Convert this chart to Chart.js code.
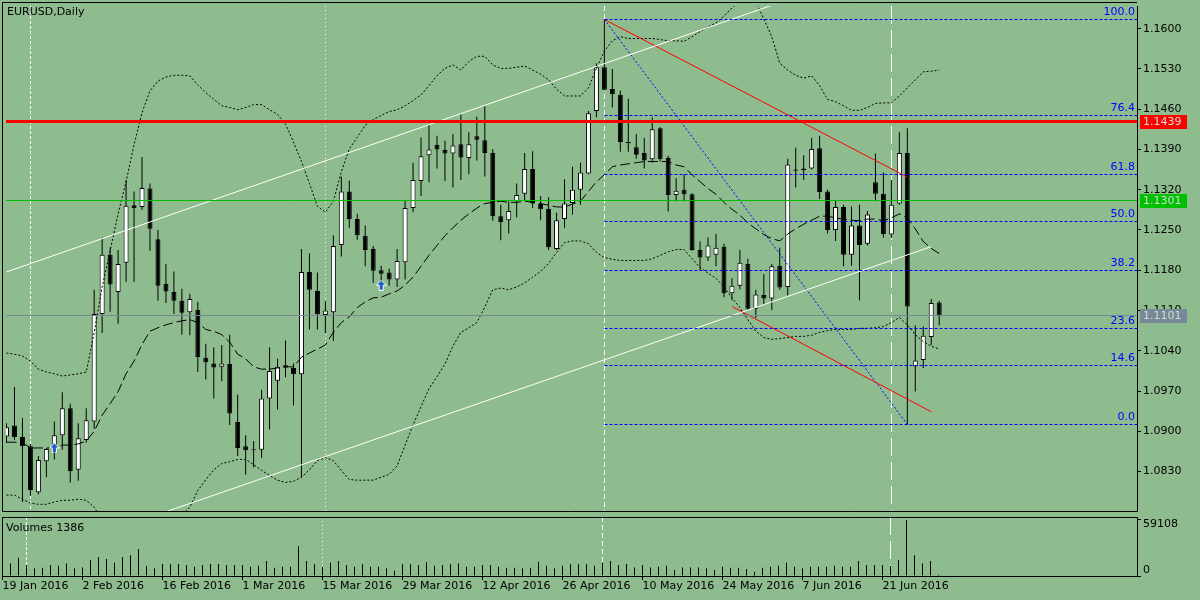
<!DOCTYPE html>
<html>
<head>
<meta charset="utf-8">
<title>EURUSD,Daily</title>
<script src="https://cdn.jsdelivr.net/npm/chart.js@4.4.1/dist/chart.umd.min.js"></script>
<style>
  html, body { margin:0; padding:0; background:#8FBC8F; overflow:hidden; }
  #wrap { position:relative; width:1200px; height:600px; background:#8FBC8F; }
  #main { position:absolute; left:0; top:0; }
  #vol { position:absolute; left:0; top:517px; }
</style>
</head>
<body>
<div id="wrap">
  <canvas id="main" width="1200" height="517"></canvas>
  <canvas id="vol" width="1200" height="83"></canvas>
</div>
<script>
// ---------------- DATA ----------------
const symbolTitle = 'EURUSD,Daily';
const volumeTitle = 'Volumes 1386';

const dateTickIdx = [0, 10, 20, 30, 40, 50, 60, 70, 80, 90, 100, 110];
const dateTickLabels = ['19 Jan 2016', '2 Feb 2016', '16 Feb 2016', '1 Mar 2016', '15 Mar 2016', '29 Mar 2016',
  '12 Apr 2016', '26 Apr 2016', '10 May 2016', '24 May 2016', '7 Jun 2016', '21 Jun 2016'];
const priceTicks = [1.0830, 1.0900, 1.0970, 1.1040, 1.1110, 1.1180, 1.1250, 1.1320, 1.1390, 1.1460, 1.1530, 1.1600];
const volumeTicks = [0, 59108];

const open = [
  1.0891,1.0910,1.0890,1.0874,1.0794,1.0848,1.0874,1.0893,1.0940,1.0833,
  1.0885,1.0917,1.1104,1.1207,1.1142,1.1193,1.1293,1.1290,1.1322,1.1234,
  1.1156,1.1142,1.1127,1.1107,1.1111,1.1028,1.1018,1.1012,1.1017,1.0916,
  1.0874,1.0867,1.0868,1.0957,1.0988,1.1015,1.1010,1.0999,1.1177,1.1144,
  1.1102,1.1107,1.1224,1.1317,1.1269,1.1240,1.1217,1.1180,1.1176,1.1164,
  1.1194,1.1288,1.1335,1.1380,1.1398,1.1389,1.1383,1.1399,1.1375,1.1413,
  1.1406,1.1384,1.1274,1.1267,1.1300,1.1313,1.1356,1.1295,1.1287,1.1217,
  1.1269,1.1297,1.1320,1.1348,1.1457,1.1533,1.1495,1.1485,1.1403,1.1394,
  1.1384,1.1373,1.1427,1.1375,1.1311,1.1320,1.1312,1.1215,1.1202,1.1207,
  1.1221,1.1140,1.1153,1.1191,1.1113,1.1137,1.1131,1.1188,1.1151,1.1355,
  1.1357,1.1357,1.1392,1.1317,1.1250,1.1290,1.1207,1.1258,1.1226,1.1333,
  1.1313,1.1242,1.1296,1.1384,1.1013,1.1024,1.1064,1.1124];
const high = [
  1.0914,1.0977,1.0923,1.0878,1.0857,1.0871,1.0917,1.0968,1.0948,1.0914,
  1.0940,1.1146,1.1237,1.1219,1.1215,1.1337,1.1317,1.1377,1.1331,1.1250,
  1.1191,1.1178,1.1148,1.1139,1.1125,1.1052,1.1046,1.1050,1.1068,1.0964,
  1.0893,1.0883,1.0972,1.1046,1.1026,1.1058,1.1018,1.1217,1.1209,1.1176,
  1.1126,1.1241,1.1343,1.1336,1.1278,1.1258,1.1222,1.1188,1.1183,1.1217,
  1.1301,1.1367,1.1411,1.1434,1.1414,1.1405,1.1417,1.1451,1.1420,1.1447,
  1.1465,1.1391,1.1294,1.1300,1.1331,1.1384,1.1387,1.1309,1.1307,1.1280,
  1.1338,1.1360,1.1367,1.1457,1.1540,1.1616,1.1530,1.1492,1.1478,1.1417,
  1.1410,1.1446,1.1429,1.1379,1.1340,1.1347,1.1314,1.1230,1.1237,1.1243,
  1.1226,1.1166,1.1215,1.1200,1.1146,1.1173,1.1191,1.1219,1.1374,1.1393,
  1.1380,1.1410,1.1414,1.1320,1.1302,1.1294,1.1291,1.1294,1.1283,1.1383,
  1.1350,1.1337,1.1420,1.1427,1.1084,1.1082,1.1130,1.1127];
const low = [
  1.0880,1.0885,1.0777,1.0788,1.0790,1.0820,1.0851,1.0868,1.0811,1.0814,
  1.0880,1.0905,1.1071,1.1108,1.1087,1.1160,1.1160,1.1285,1.1214,1.1127,
  1.1123,1.1104,1.1068,1.1067,1.1003,1.0990,1.0957,1.0987,1.0911,1.0857,
  1.0825,1.0837,1.0854,1.0903,1.0938,1.0994,1.0945,1.0820,1.1077,1.1077,
  1.1071,1.1057,1.1204,1.1254,1.1233,1.1187,1.1158,1.1148,1.1153,1.1151,
  1.1164,1.1281,1.1309,1.1333,1.1357,1.1335,1.1324,1.1337,1.1347,1.1371,
  1.1343,1.1266,1.1232,1.1244,1.1272,1.1302,1.1288,1.1267,1.1215,1.1215,
  1.1254,1.1277,1.1294,1.1347,1.1446,1.1493,1.1463,1.1386,1.1386,1.1374,
  1.1357,1.1367,1.1369,1.1282,1.1300,1.1300,1.1214,1.1180,1.1196,1.1187,
  1.1133,1.1128,1.1147,1.1111,1.1097,1.1120,1.1111,1.1146,1.1136,1.1324,
  1.1337,1.1355,1.1304,1.1244,1.1231,1.1187,1.1188,1.1128,1.1223,1.1300,
  1.1237,1.1236,1.1294,1.0911,1.0969,1.1010,1.1050,1.1084];
const close = [
  1.0907,1.0890,1.0874,1.0798,1.0850,1.0869,1.0893,1.0940,1.0831,1.0888,
  1.0919,1.1104,1.1207,1.1155,1.1191,1.1292,1.1288,1.1323,1.1252,1.1153,
  1.1143,1.1127,1.1106,1.1130,1.1029,1.1020,1.1011,1.1018,1.0931,1.0871,
  1.0867,1.0867,1.0957,1.1005,1.1012,1.1011,1.0999,1.1177,1.1146,1.1104,
  1.1110,1.1222,1.1317,1.1269,1.1241,1.1215,1.1179,1.1174,1.1164,1.1196,
  1.1288,1.1337,1.1378,1.1390,1.1390,1.1383,1.1397,1.1376,1.1399,1.1407,
  1.1384,1.1274,1.1264,1.1283,1.1311,1.1356,1.1296,1.1286,1.1220,1.1267,
  1.1296,1.1320,1.1350,1.1453,1.1533,1.1494,1.1486,1.1403,1.1401,1.1381,
  1.1371,1.1425,1.1373,1.1311,1.1318,1.1312,1.1215,1.1202,1.1223,1.1219,
  1.1140,1.1153,1.1193,1.1113,1.1138,1.1131,1.1187,1.1150,1.1364,1.1353,
  1.1354,1.1391,1.1316,1.1250,1.1290,1.1207,1.1258,1.1224,1.1277,1.1313,
  1.1243,1.1294,1.1384,1.1117,1.1023,1.1066,1.1123,1.1101];
const volume = [
  12000,13300,19200,11600,8100,8700,11600,10800,13300,8100,
  9100,16800,20000,17900,14000,20000,22000,28400,10500,8100,
  12600,12300,12600,11600,9800,11600,12600,12600,11600,11600,
  11600,9800,10800,15800,8700,9800,9800,31500,15800,12300,
  9800,14000,15800,11600,9800,12300,9800,9800,8100,5600,
  12300,12300,11600,14400,10800,11600,12300,13300,9800,9800,
  11600,11600,9800,8700,8700,8100,8700,15000,10800,8100,
  10800,12300,12300,12300,10800,14000,15800,11600,12600,9100,
  11600,9100,9800,10800,6300,9100,9100,9100,8100,6300,
  9800,8700,8700,7400,4500,8700,9800,10800,14000,9800,
  8100,9800,9800,9800,10800,9800,9800,15800,11600,11600,
  11600,10500,16800,59108,22000,13300,15800,1386];
const bbUpper = [
  1.1036,1.1034,1.1031,1.1022,1.1008,1.1003,1.1000,1.0996,1.0998,1.1000,
  1.1003,1.1072,1.1151,1.1214,1.1278,1.1334,1.1398,1.1454,1.1492,1.1509,
  1.1516,1.1519,1.1519,1.1518,1.1502,1.1489,1.1477,1.1466,1.1463,1.1459,
  1.1463,1.1468,1.1468,1.1459,1.1451,1.1434,1.1403,1.1369,1.1331,1.1291,
  1.1281,1.1300,1.1351,1.1391,1.1411,1.1432,1.1442,1.1449,1.1456,1.1459,
  1.1466,1.1475,1.1485,1.1501,1.1518,1.1531,1.1537,1.1528,1.1543,1.1552,
  1.1552,1.1537,1.1531,1.1531,1.1533,1.1535,1.1528,1.1521,1.1511,1.1495,
  1.1483,1.1483,1.1483,1.1497,1.1531,1.1561,1.1579,1.1586,1.1583,1.1583,
  1.1583,1.1583,1.1581,1.1579,1.1579,1.1578,1.1586,1.1595,1.1603,1.1610,
  1.1622,1.1636,1.1648,1.1651,1.1646,1.1617,1.1586,1.1540,1.1528,1.1519,
  1.1514,1.1518,1.1501,1.1477,1.1473,1.1466,1.1458,1.1458,1.1463,1.1470,
  1.1471,1.1471,1.1483,1.1497,1.1511,1.1525,1.1526,1.1528];
const bbMiddle = [
  1.0881,1.0881,1.0880,1.0871,1.0871,1.0871,1.0871,1.0876,1.0876,1.0878,
  1.0883,1.0900,1.0928,1.0948,1.0969,1.1000,1.1022,1.1051,1.1074,1.1080,
  1.1085,1.1089,1.1092,1.1094,1.1089,1.1077,1.1074,1.1068,1.1055,1.1034,
  1.1026,1.1012,1.1008,1.1008,1.1010,1.1012,1.1012,1.1029,1.1036,1.1043,
  1.1050,1.1072,1.1089,1.1099,1.1115,1.1125,1.1132,1.1133,1.1139,1.1144,
  1.1154,1.1168,1.1187,1.1206,1.1223,1.1240,1.1254,1.1267,1.1278,1.1288,
  1.1296,1.1298,1.1300,1.1298,1.1298,1.1300,1.1298,1.1296,1.1293,1.1290,
  1.1290,1.1295,1.1300,1.1317,1.1334,1.1346,1.1360,1.1363,1.1365,1.1367,
  1.1369,1.1369,1.1369,1.1369,1.1363,1.1360,1.1346,1.1334,1.1322,1.1312,
  1.1298,1.1286,1.1276,1.1262,1.1252,1.1242,1.1235,1.1231,1.1243,1.1252,
  1.1260,1.1267,1.1274,1.1274,1.1271,1.1269,1.1267,1.1266,1.1269,1.1269,
  1.1266,1.1271,1.1278,1.1271,1.1252,1.1230,1.1218,1.1209];
const bbLower = [
  1.0789,1.0789,1.0782,1.0775,1.0773,1.0773,1.0777,1.0780,1.0780,1.0782,
  1.0780,1.0768,1.0746,1.0717,1.0691,1.0674,1.0665,1.0665,1.0674,1.0691,
  1.0708,1.0734,1.0755,1.0768,1.0797,1.0816,1.0833,1.0844,1.0847,1.0851,
  1.0851,1.0842,1.0832,1.0823,1.0815,1.0811,1.0813,1.0820,1.0833,1.0849,
  1.0854,1.0849,1.0832,1.0816,1.0815,1.0815,1.0815,1.0820,1.0825,1.0840,
  1.0876,1.0911,1.0943,1.0974,1.0995,1.1017,1.1048,1.1072,1.1080,1.1089,
  1.1116,1.1146,1.1149,1.1146,1.1151,1.1158,1.1168,1.1178,1.1192,1.1211,
  1.1228,1.1231,1.1231,1.1226,1.1211,1.1202,1.1199,1.1197,1.1197,1.1197,
  1.1197,1.1200,1.1206,1.1212,1.1216,1.1216,1.1200,1.1185,1.1175,1.1166,
  1.1151,1.1132,1.1115,1.1094,1.1074,1.1063,1.1060,1.1061,1.1063,1.1065,
  1.1065,1.1067,1.1072,1.1075,1.1077,1.1077,1.1077,1.1079,1.1079,1.1080,
  1.1082,1.1089,1.1098,1.1085,1.1068,1.1056,1.1048,1.1043];

// drawn objects: [bar index, price] anchors
const channelUpper = [[0, 1.1177], [100, 1.1660]];
const channelLower = [[15, 1.0736], [116, 1.1221]];
const redTrendUpper = [[75, 1.1616], [113, 1.1342]];
const redTrendLower = [[91, 1.1117], [116, 1.0934]];
const fibDiagonal = [[75, 1.1616], [113, 1.0912]];
const fibStartIdx = 75;
const fibLevelNames = ['100.0', '76.4', '61.8', '50.0', '38.2', '23.6', '14.6', '0.0'];
const fibLevelPrices = [1.1616, 1.1449, 1.1346, 1.1264, 1.1180, 1.1079, 1.1015, 1.0912];
const hLinePrices = [1.1439, 1.1301, 1.1101];
const vLineIdx = [3, 40, 75, 111];
const arrowIdx = [6, 47];
const arrowPrice = [1.0871, 1.1154];

// ---------------- STYLE / LAYOUT ----------------
const BG = '#8FBC8F';
const FONT = { family: 'DejaVu Sans', size: 11 };
const FONT_CSS = '11px "DejaVu Sans"';
const XMIN = -0.0625, XMAX = 141.8125;
const YMIN = 1.076137, YMAX = 1.163944;
const VMAX = 62274;
const hLineColors = ['#FF0000', '#00C000', '#778899'];
const hLineWidths = [3, 1, 1];
const vLineDash = [[3, 2], [1, 3], [5, 3], [18, 6]];

Chart.defaults.font.family = 'DejaVu Sans';
Chart.defaults.font.size = 11;
Chart.defaults.color = '#000';

const barIndex = open.map((_, i) => i);
const pts = arr => barIndex.map(i => ({ x: i, y: arr[i] }));
const seg = pairs => pairs.map(p => ({ x: p[0], y: p[1] }));

function lineDs(data, color, width, dash, order) {
  return { type: 'line', data, borderColor: color, borderWidth: width, borderDash: dash,
    pointRadius: 0, pointHoverRadius: 0, fill: false, tension: 0, order };
}

function makeArrow() {
  const c = document.createElement('canvas');
  c.width = 11; c.height = 11;
  const g = c.getContext('2d');
  g.beginPath();
  g.moveTo(5.5, 0.5); g.lineTo(10.5, 5.5); g.lineTo(7.5, 5.5); g.lineTo(7.5, 10.5);
  g.lineTo(3.5, 10.5); g.lineTo(3.5, 5.5); g.lineTo(0.5, 5.5); g.closePath();
  g.fillStyle = '#1E5CC8'; g.fill();
  g.strokeStyle = '#FFFFFF'; g.lineWidth = 1; g.stroke();
  return c;
}
const arrowImg = makeArrow();

function drawVLines(chart) {
  const { ctx, chartArea: a, scales: { x } } = chart;
  ctx.save();
  ctx.strokeStyle = '#FFFFFF';
  ctx.lineWidth = 1;
  vLineIdx.forEach((k, j) => {
    const px = Math.floor(x.getPixelForValue(k)) + 0.5;
    ctx.setLineDash(vLineDash[j]);
    ctx.beginPath(); ctx.moveTo(px, a.top); ctx.lineTo(px, a.bottom); ctx.stroke();
  });
  ctx.restore();
}

function zeroPad(s) { s.paddingTop = 0; s.paddingBottom = 0; s.paddingLeft = 0; s.paddingRight = 0; }
const snap = v => Math.floor(v) + 0.5;

// ---------------- MAIN CHART ----------------
const mainDecor = {
  id: 'mainDecor',
  beforeDraw(chart) {
    const { ctx, width, height } = chart;
    ctx.save(); ctx.fillStyle = BG; ctx.fillRect(0, 0, width, height); ctx.restore();
  },
  beforeDatasetsDraw(chart) { drawVLines(chart); },
  afterDatasetsDraw(chart) {
    const { ctx, chartArea: a, scales: { x, y } } = chart;
    ctx.save();
    ctx.beginPath(); ctx.rect(a.left, a.top, a.right - a.left, a.bottom - a.top); ctx.clip();
    // fibonacci level lines
    ctx.strokeStyle = '#0000FF'; ctx.lineWidth = 1; ctx.setLineDash([3, 2]);
    const fx = snap(x.getPixelForValue(fibStartIdx));
    fibLevelPrices.forEach(p => {
      const py = snap(y.getPixelForValue(p));
      ctx.beginPath(); ctx.moveTo(fx, py); ctx.lineTo(a.right, py); ctx.stroke();
    });
    // horizontal price lines
    ctx.setLineDash([]);
    hLinePrices.forEach((p, i) => {
      const py = snap(y.getPixelForValue(p));
      ctx.strokeStyle = hLineColors[i]; ctx.lineWidth = hLineWidths[i];
      ctx.beginPath(); ctx.moveTo(a.left, py); ctx.lineTo(a.right, py); ctx.stroke();
    });
    ctx.restore();
  },
  afterDraw(chart) {
    const { ctx, chartArea: a, scales: { y } } = chart;
    ctx.save();
    // panel border
    ctx.strokeStyle = '#000'; ctx.lineWidth = 1; ctx.setLineDash([]);
    ctx.beginPath();
    ctx.moveTo(2.5, Math.floor(a.bottom) + 0.5); ctx.lineTo(2.5, 2.5); ctx.lineTo(a.right, 2.5);
    ctx.moveTo(2.5, Math.floor(a.bottom) + 0.5); ctx.lineTo(a.right, Math.floor(a.bottom) + 0.5);
    ctx.stroke();
    // title
    ctx.font = FONT_CSS; ctx.fillStyle = '#000'; ctx.textAlign = 'left'; ctx.textBaseline = 'middle';
    ctx.fillText(symbolTitle, 7, 12);
    // fib labels
    ctx.fillStyle = '#0000FF'; ctx.textAlign = 'right';
    fibLevelPrices.forEach((p, i) => {
      ctx.fillText(fibLevelNames[i], a.right - 2, Math.floor(y.getPixelForValue(p)) - 6.5);
    });
    // price boxes on axis
    ctx.textAlign = 'left';
    hLinePrices.forEach((p, i) => {
      const py = Math.floor(y.getPixelForValue(p));
      ctx.fillStyle = hLineColors[i];
      ctx.fillRect(a.right + 3, py - 6, 47, 14);
      ctx.fillStyle = '#D2DCD2';
      ctx.fillText(p.toFixed(4), a.right + 6, py + 1.5);
    });
    ctx.restore();
  }
};

const mainDatasets = [
  { type: 'bar', label: 'wick', data: barIndex.map(i => ({ x: i, y: [low[i], high[i]] })),
    backgroundColor: '#000', borderWidth: 0, barThickness: 1, grouped: false, inflateAmount: 0, order: 11 },
  { type: 'bar', label: 'body', data: barIndex.map(i => ({ x: i, y: [open[i], close[i]] })),
    backgroundColor: barIndex.map(i => close[i] > open[i] ? '#FFFFFF' : '#000000'),
    borderColor: '#000', borderWidth: 1, borderSkipped: false, barThickness: 5, minBarLength: 1,
    grouped: false, inflateAmount: 0, order: 10 },
  lineDs(pts(bbUpper), '#000', 1, [2, 2], 5),
  lineDs(pts(bbLower), '#000', 1, [2, 2], 5),
  lineDs(pts(bbMiddle), '#000', 1, [10, 4], 5),
  lineDs(seg(channelUpper), '#FFFFFF', 1, [], 3),
  lineDs(seg(channelLower), '#FFFFFF', 1, [], 3),
  lineDs(seg(redTrendUpper), '#FF0000', 1, [], 3),
  lineDs(seg(redTrendLower), '#FF0000', 1, [], 3),
  lineDs(seg(fibDiagonal), '#0000FF', 1, [2, 2], 3),
  { type: 'line', data: arrowIdx.map((k, i) => ({ x: k, y: arrowPrice[i] })), showLine: false,
    pointStyle: arrowImg, pointRadius: 5, pointHoverRadius: 5, order: 0 }
];

new Chart(document.getElementById('main'), {
  type: 'bar',
  data: { datasets: mainDatasets },
  options: {
    responsive: false, animation: false, events: [],
    layout: { padding: { left: 2, top: 2, right: 0, bottom: 3 } },
    plugins: { legend: { display: false }, tooltip: { enabled: false }, title: { display: false } },
    scales: {
      x: { type: 'linear', display: false, min: XMIN, max: XMAX, offset: false, grid: { offset: false } },
      y: {
        type: 'linear', position: 'right', min: YMIN, max: YMAX,
        afterBuildTicks: s => { s.ticks = priceTicks.map(v => ({ value: v })); },
        afterFit: s => { s.width = 63; zeroPad(s); },
        ticks: { callback: v => Number(v).toFixed(4), font: FONT, color: '#000', padding: 2, autoSkip: false },
        grid: { drawOnChartArea: false, drawTicks: true, tickLength: 4, color: '#000' },
        border: { display: true, color: '#000', width: 1 }
      }
    }
  },
  plugins: [mainDecor]
});

// ---------------- VOLUME CHART ----------------
const volDecor = {
  id: 'volDecor',
  beforeDraw(chart) {
    const { ctx, width, height } = chart;
    ctx.save(); ctx.fillStyle = BG; ctx.fillRect(0, 0, width, height); ctx.restore();
  },
  beforeDatasetsDraw(chart) { drawVLines(chart); },
  afterDraw(chart) {
    const { ctx, chartArea: a, scales: { y } } = chart;
    ctx.save();
    ctx.strokeStyle = '#000'; ctx.lineWidth = 1; ctx.setLineDash([]);
    ctx.beginPath();
    ctx.moveTo(2.5, a.bottom); ctx.lineTo(2.5, 0.5); ctx.lineTo(a.right, 0.5);
    ctx.stroke();
    ctx.font = FONT_CSS; ctx.fillStyle = '#000'; ctx.textAlign = 'left'; ctx.textBaseline = 'middle';
    ctx.fillText(volumeTitle, 6, 11);
    ctx.fillText(String(volumeTicks[1]), a.right + 6, y.getPixelForValue(volumeTicks[1]) + 4);
    ctx.fillText(String(volumeTicks[0]), a.right + 6, y.getPixelForValue(volumeTicks[0]) - 6);
    ctx.restore();
  }
};

new Chart(document.getElementById('vol'), {
  type: 'bar',
  data: { datasets: [
    { type: 'bar', data: barIndex.map(i => ({ x: i, y: volume[i] })), backgroundColor: '#000',
      borderWidth: 0, barThickness: 1, inflateAmount: 0, grouped: false }
  ] },
  options: {
    responsive: false, animation: false, events: [],
    layout: { padding: { left: 2, top: 0, right: 0, bottom: 0 } },
    plugins: { legend: { display: false }, tooltip: { enabled: false }, title: { display: false } },
    scales: {
      x: {
        type: 'linear', position: 'bottom', min: XMIN, max: XMAX, offset: false,
        afterBuildTicks: s => { s.ticks = dateTickIdx.map(v => ({ value: v })); },
        afterFit: s => { s.height = 24; zeroPad(s); },
        ticks: { autoSkip: false, maxRotation: 0, minRotation: 0, align: 'start', padding: 0,
          font: FONT, color: '#000', callback: (v, i) => dateTickLabels[i] },
        grid: { drawOnChartArea: false, drawTicks: true, tickLength: 4, color: '#000', offset: false },
        border: { display: true, color: '#000', width: 1 }
      },
      y: {
        type: 'linear', position: 'right', min: 0, max: VMAX,
        afterBuildTicks: s => { s.ticks = volumeTicks.map(v => ({ value: v })); },
        afterFit: s => { s.width = 63; zeroPad(s); },
        ticks: { callback: () => '', padding: 2 },
        grid: { drawOnChartArea: false, drawTicks: true, tickLength: 4, color: '#000' },
        border: { display: true, color: '#000', width: 1 }
      }
    }
  },
  plugins: [volDecor]
});
</script>
</body>
</html>
